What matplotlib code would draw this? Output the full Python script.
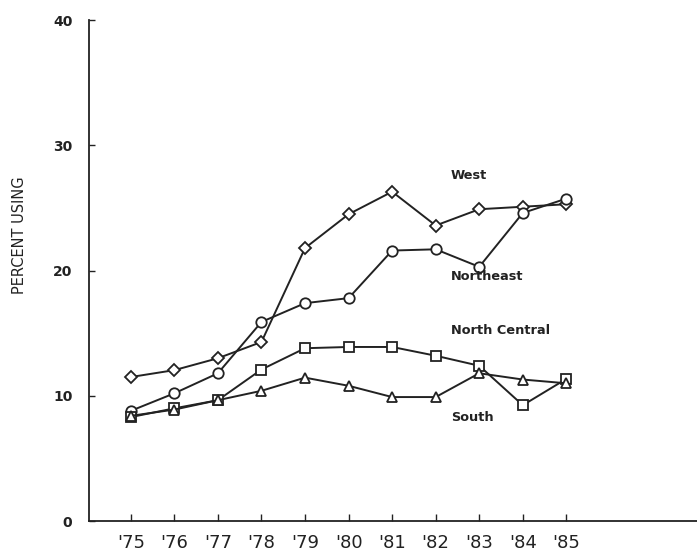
import numpy as np
import matplotlib.pyplot as plt

years = [75, 76, 77, 78, 79, 80, 81, 82, 83, 84, 85]
year_labels = ["'75", "'76", "'77", "'78", "'79", "'80", "'81", "'82", "'83", "'84", "'85"]

west = [11.5, 12.05, 13.0, 14.3, 21.8, 24.5, 26.3, 23.6, 24.9, 25.1, 25.3]
northeast = [8.8, 10.2, 11.8, 15.9, 17.4, 17.8, 21.6, 21.7, 20.3, 24.6, 25.75]
north_central = [8.3, 9.0, 9.65, 12.1, 13.8, 13.9, 13.9, 13.2, 12.4, 9.25, 11.35]
south = [8.4, 8.9, 9.65, 10.4, 11.45, 10.8, 9.9, 9.9, 11.8, 11.3, 11.0]

series = [
    ("West", west, "D", 6.0, (82.35, 27.6)),
    ("Northeast", northeast, "o", 7.5, (82.35, 19.5)),
    ("North Central", north_central, "s", 7.0, (82.35, 15.25)),
    ("South", south, "^", 7.0, (82.35, 8.3)),
]

ink = "#222222"

fig = plt.figure(figsize=(6.97, 5.6), dpi=100)
ax = fig.add_axes([0.1277, 0.0696, 0.8723, 0.8944])

for name, vals, mk, ms, (tx, ty) in series:
    ax.plot(years, vals, color=ink, lw=1.4, marker=mk, ms=ms,
            mfc="white", mec=ink, mew=1.3)
    ax.text(tx, ty, name, fontsize=9.3, fontweight="bold", color=ink,
            ha="left", va="center")

ax.set_xlim(74.04, 88.0)
ax.set_ylim(0, 40)
ax.set_xticks(years)
ax.set_xticklabels(year_labels, fontsize=13, color=ink)
ax.set_yticks([0, 10, 20, 30, 40])
ax.set_yticklabels(["0", "10", "20", "30", "40"], fontsize=10,
                   fontweight="bold", color=ink)
ax.tick_params(axis="x", direction="in", length=5, width=1, pad=9, colors=ink)
ax.tick_params(axis="y", direction="in", length=4, width=1, pad=12, colors=ink)

for s in ["top", "right"]:
    ax.spines[s].set_visible(False)
for s in ["left", "bottom"]:
    ax.spines[s].set_linewidth(1.3)
    ax.spines[s].set_color(ink)

ax.set_ylabel("PERCENT USING", fontsize=10.5, color=ink)
ax.yaxis.set_label_coords(-0.102, 0.571)

fig.savefig("out.png", dpi=100)
